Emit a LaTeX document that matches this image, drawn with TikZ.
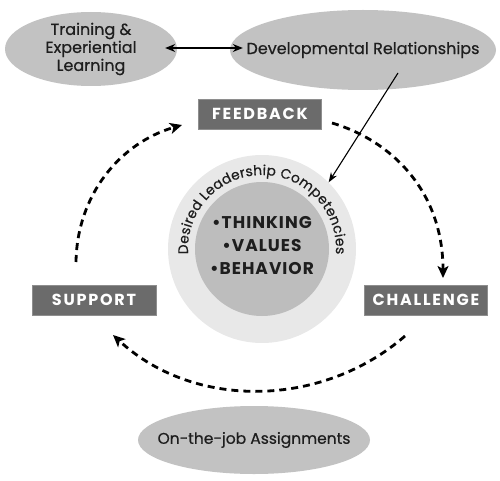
\documentclass[tikz,border=0pt]{standalone}
\usepackage{fontspec}
\setmainfont{Poppins}
\usepackage{tikz}
\usetikzlibrary{calc}
\usetikzlibrary{shapes.geometric}
\usetikzlibrary{arrows.meta}
\usetikzlibrary{decorations.text}

\definecolor{ovalgray}{HTML}{C2C2C2}
\definecolor{boxgray}{HTML}{6B6B6B}
\definecolor{boxedge}{HTML}{8E8E8E}
\definecolor{ringgray}{HTML}{E8E8E8}
\definecolor{coregray}{HTML}{BDBDBD}
\definecolor{inkgray}{HTML}{1E1E1E}

\tikzset{
  oval/.style={ellipse, fill=ovalgray, inner sep=0pt},
  ovaltext/.style={text=inkgray, align=center, inner sep=0pt,
               font=\fontsize{16}{18}\selectfont\addfontfeatures{FakeBold=0.6}},
  phase/.style={rectangle, fill=boxgray, draw=boxedge, line width=0.8pt, text=white,
                minimum width=123pt, minimum height=30pt, inner sep=0pt,
                font=\fontsize{16}{18}\selectfont\bfseries\addfontfeatures{LetterSpace=11}},
  loopline/.style={line width=2.8pt, dash pattern=on 7pt off 5pt,
                   -{Stealth[length=12pt,width=11pt,inset=3pt]}},
}

\begin{document}
\begin{tikzpicture}[x=1pt, y=1pt]
    \useasboundingbox (0,0) rectangle (500,480);

    % outer ovals
    \node[oval, minimum width=172pt, minimum height=74pt] (train) at (91,431) {};
    \node[ovaltext] (trainlbl) at (train) {Training \&\\Experiential\\Learning};
    \node[oval, minimum width=266pt, minimum height=80pt] (dev) at (363,430) {};
    \node[ovaltext] (devlbl) at (dev) {Developmental Relationships};
    \node[oval, minimum width=232pt, minimum height=68pt] (onjob) at (254,40) {};
    \node[ovaltext, font=\fontsize{15.5}{18}\selectfont\addfontfeatures{FakeBold=0.6}]
      (onjoblbl) at (onjob) {On-the-job Assignments};

    % competency rings
    \node[circle, fill=ringgray, minimum size=188pt, inner sep=0pt] (comp) at (262,231) {};
    \node[circle, fill=coregray, minimum size=134pt, inner sep=0pt] (core) at (comp) {};
    \node[align=center, text=inkgray, font=\fontsize{17}{23}\selectfont\bfseries\addfontfeatures{LetterSpace=6}]
      (traits) at (262,234) {•THINKING\\•VALUES\\•BEHAVIOR};
    \path[decorate, decoration={text along path, text align=fit to path,
          text={|\fontsize{13.8}{15}\selectfont\addfontfeatures{FakeBold=0.4}\color{inkgray}|Desired Leadership Competencies}}]
      (comp.center) ++(184:74) arc[start angle=184, end angle=-4, radius=74];

    % phase boxes
    \node[phase] (feedback) at (260,366) {FEEDBACK};
    \node[phase, minimum width=124pt] (support) at (94,180) {SUPPORT};
    \node[phase] (challenge) at (426,180) {CHALLENGE};

    % ends of the dashed cycle
    \coordinate (supTop) at (76,218);
    \coordinate (fbLeft) at (182,355);
    \coordinate (fbRight) at (332,357);
    \coordinate (chTop) at (443,202);
    \coordinate (chLow) at (405,144);
    \coordinate (supLow) at (113,145);
    \coordinate (devFoot) at (398,407);

    % dashed cycle
    \draw[loopline] (supTop) .. controls (77,285) and (120,337) .. (fbLeft);
    \draw[loopline] (fbRight) .. controls (390,340) and (443,290) .. (chTop);
    \draw[loopline] (chLow) .. controls (322,72) and (194,70) .. (supLow);

    % arrows between ovals and rings
    \draw[{Stealth[length=10pt,width=8pt]}-{Stealth[length=10pt,width=8pt]}, line width=1.1pt,
          shorten <=-12pt, shorten >=-13pt] ($(train.east)+(0,1)$) -- ($(dev.west)+(0,2)$);
    \draw[-{Stealth[length=10pt,width=7pt]}, line width=1.1pt] (devFoot) -- (comp.45);
  \end{tikzpicture}
\end{document}
